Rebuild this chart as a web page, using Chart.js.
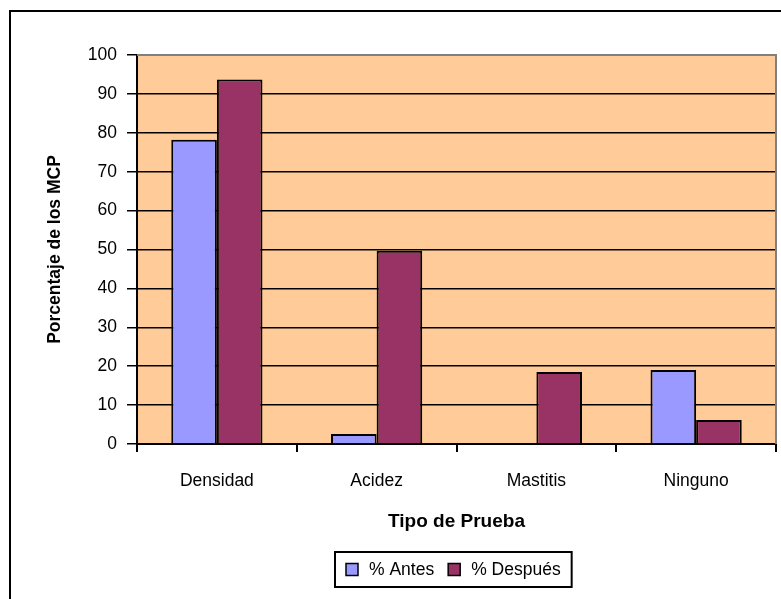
<!DOCTYPE html>
<html>
<head>
<meta charset="utf-8">
<script src="https://cdn.jsdelivr.net/npm/chart.js@4"></script>
<style>
  html, body { margin: 0; padding: 0; background: #ffffff; }
  #wrap { width: 781px; height: 599px; }
</style>
</head>
<body>
<div id="wrap"><canvas id="c" width="781" height="599"></canvas></div>
<script>
// Tipos de prueba y porcentajes de los MCP antes y después
const categories = ['Densidad', 'Acidez', 'Mastitis', 'Ninguno'];
const seriesNames = ['% Antes', '% Después'];
const antes = [78.2, 2.6, 0, 19.0];
const despues = [93.7, 49.7, 18.5, 6.2];
const yMin = 0, yMax = 100, yStep = 10;
const xTitle = 'Tipo de Prueba';
const yTitle = 'Porcentaje de los MCP';

const FONT = '"Liberation Sans", Arial, sans-serif';
const colors = ['#9999FF', '#993366'];

// Fondo del área de trazado, marco exterior y leyenda con recuadro
const decor = {
  id: 'decor',
  beforeDraw(chart) {
    const { ctx, chartArea: a } = chart;
    ctx.save();
    ctx.fillStyle = '#FFCC99';
    ctx.fillRect(a.left, a.top, a.right - a.left, a.bottom - a.top);
    ctx.restore();
  },
  afterDraw(chart) {
    const { ctx, chartArea: a } = chart;
    ctx.save();
    // borde gris del área de trazado (arriba y derecha)
    ctx.strokeStyle = '#808080';
    ctx.lineWidth = 2;
    ctx.beginPath();
    ctx.moveTo(a.left, a.top);
    ctx.lineTo(a.right, a.top);
    ctx.lineTo(a.right, a.bottom);
    ctx.stroke();
    // marco exterior del gráfico
    ctx.strokeStyle = '#000000';
    ctx.lineWidth = 2;
    ctx.strokeRect(10, 11, chart.width + 100, chart.height + 100);

    // leyenda
    ctx.font = '17.5px ' + FONT;
    const sw = 12, gapText = 11, gapItem = 14, pad = 11;
    const widths = seriesNames.map(s => ctx.measureText(s).width);
    let total = pad * 2;
    widths.forEach((w, i) => { total += sw + gapText + w + (i ? gapItem : 0); });
    const cx = (a.left + a.right) / 2 - 3;
    const lx = Math.round(cx - total / 2);
    const ly = a.bottom + 108;
    const lh = 35;
    ctx.fillStyle = '#ffffff';
    ctx.fillRect(lx, ly, total, lh);
    ctx.strokeStyle = '#000000';
    ctx.lineWidth = 2;
    ctx.strokeRect(lx, ly, total, lh);
    let x = lx + pad;
    const my = ly + lh / 2;
    chart.data.datasets.forEach((ds, i) => {
      if (i) x += gapItem;
      ctx.fillStyle = ds.backgroundColor;
      ctx.fillRect(x, my - sw / 2, sw, sw);
      ctx.lineWidth = 1.5;
      ctx.strokeStyle = '#000000';
      ctx.strokeRect(x, my - sw / 2, sw, sw);
      x += sw + gapText;
      ctx.fillStyle = '#000000';
      ctx.textBaseline = 'middle';
      ctx.textAlign = 'left';
      ctx.fillText(ds.label, x, my + 1);
      x += widths[i];
    });
    ctx.restore();
  }
};

new Chart(document.getElementById('c'), {
  type: 'bar',
  data: {
    labels: categories,
    datasets: [
      { label: seriesNames[0], data: antes, backgroundColor: colors[0] },
      { label: seriesNames[1], data: despues, backgroundColor: colors[1] }
    ]
  },
  options: {
    responsive: false,
    animation: false,
    devicePixelRatio: 1,
    layout: { padding: { left: 10, top: 55, right: 5, bottom: 0 } },
    datasets: {
      bar: {
        categoryPercentage: 0.571,
        barPercentage: 1.0,
        borderColor: '#000000',
        borderWidth: 2,
        borderSkipped: 'start'
      }
    },
    plugins: {
      legend: { display: false },
      tooltip: { enabled: false }
    },
    scales: {
      x: {
        afterFit(scale) { scale.height = 155; },
        grid: {
          offset: true,
          drawOnChartArea: false,
          drawTicks: true,
          tickLength: 8,
          color: '#000000',
          lineWidth: 2
        },
        border: { display: true, color: '#000000', width: 2 },
        ticks: {
          color: '#000000',
          font: { family: FONT, size: 17.5 },
          padding: 19,
          maxRotation: 0
        },
        title: {
          display: true,
          text: xTitle,
          color: '#000000',
          font: { family: FONT, size: 19, weight: 'bold' },
          padding: { top: 0, bottom: 65.6 }
        }
      },
      y: {
        min: yMin,
        max: yMax,
        afterFit(scale) { scale.width = 127; },
        grid: {
          color: '#000000',
          lineWidth: 1.5,
          drawTicks: true,
          tickLength: 10
        },
        border: { display: true, color: '#000000', width: 2 },
        ticks: {
          stepSize: yStep,
          color: '#000000',
          font: { family: FONT, size: 17.5 },
          padding: 10
        },
        title: {
          display: true,
          text: yTitle,
          color: '#000000',
          font: { family: FONT, size: 17.5, weight: 'bold' },
          padding: { top: 34.5, bottom: 0 }
        }
      }
    }
  },
  plugins: [decor]
});
</script>
</body>
</html>
